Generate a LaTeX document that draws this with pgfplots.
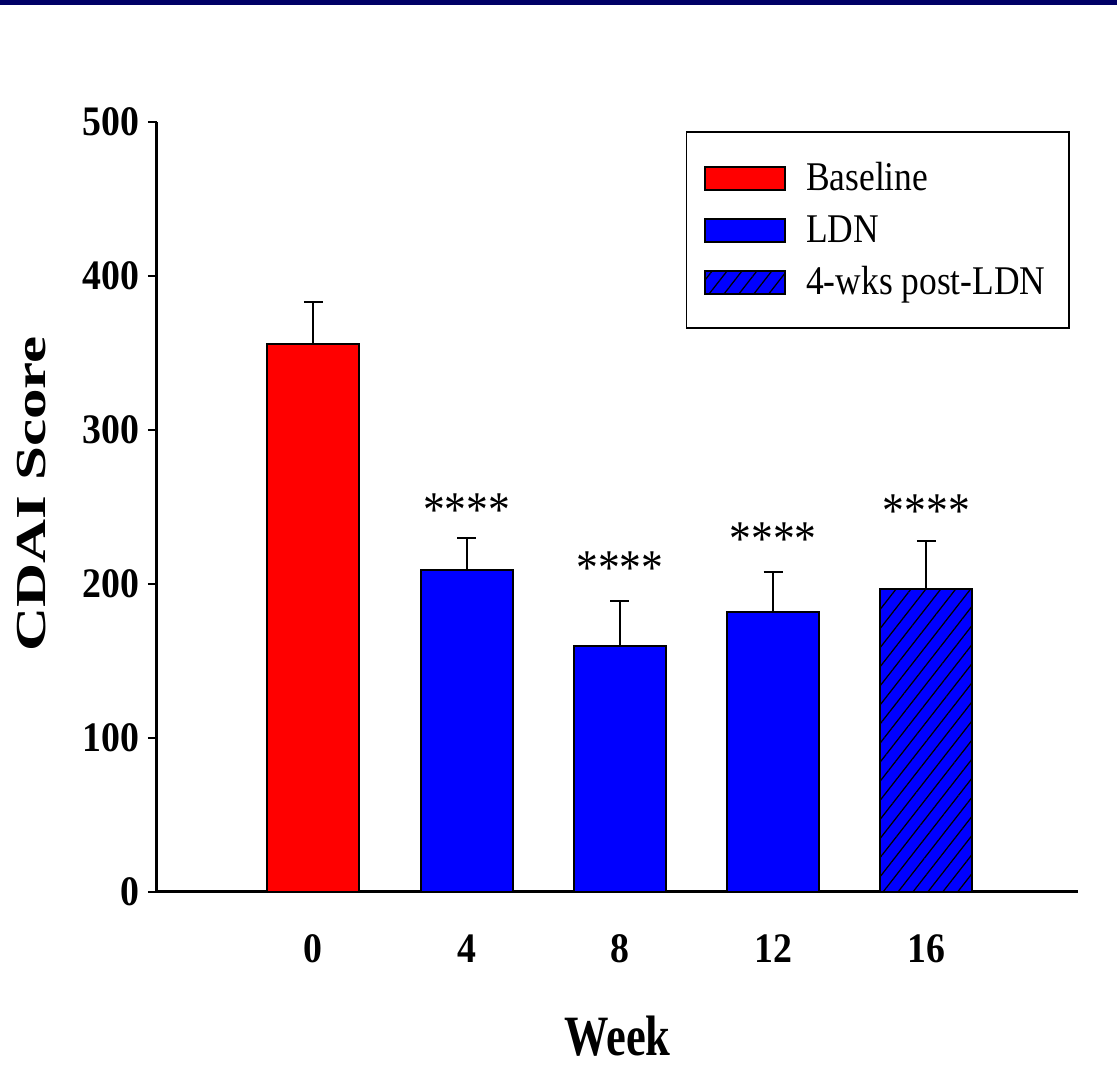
\documentclass[border=0pt]{standalone}
\usepackage{fontspec}
\setmainfont{Liberation Serif}[FakeStretch=0.87]
\newfontfamily\tickfont{Liberation Serif}[FakeStretch=0.9]
\newfontfamily\weekfont{Liberation Serif}[FakeStretch=0.78]
\newfontfamily\plainfont{Liberation Serif}
\usepackage{graphicx}
\usepackage{pgfplots}
\pgfplotsset{compat=1.18}
\usetikzlibrary{patterns.meta}
\definecolor{navyband}{RGB}{0,0,102}
\pgfplotsset{
  mylegend/.style={legend image code/.code={\draw[##1] (0pt,-4.6pt) rectangle (32pt,4.6pt);}},
}
\begin{document}
\begin{tikzpicture}
\path[use as bounding box] (0pt,0pt) rectangle (446.8pt,427.2pt);
\fill[navyband] (0pt,425.2pt) rectangle (446.8pt,427.2pt);
\begin{axis}[
  at={(62.8pt,70.4pt)}, anchor=south west,
  scale only axis, width=368.4pt, height=308pt,
  xmin=-1.02, xmax=4.99, ymin=0, ymax=500,
  axis lines*=left,
  axis line style={line width=1.2pt, black},
  ytick={0,100,200,300,400,500},
  xtick={0,1,2,3,4}, xticklabels={0,4,8,12,16},
  tick align=outside, major tick length=3.6pt,
  xtick style={draw=none},
  ytick style={line width=0.8pt, black},
  /pgf/number format/assume math mode=true,
  yticklabel style={font=\tickfont\bfseries\fontsize{16.8}{16.8}\selectfont},
  xticklabel style={font=\tickfont\bfseries\fontsize{16.8}{16.8}\selectfont, yshift=-10pt},
  xlabel={\weekfont\bfseries Week},
  ylabel={\scalebox{1}[0.7]{\plainfont\bfseries CDAI Score}},
  xlabel style={at={(axis description cs:0.5,-0.187)}, anchor=center, font=\fontsize{22.8}{22.8}\selectfont},
  ylabel style={at={(axis description cs:-0.136,0.517)}, anchor=center, font=\fontsize{24.4}{24.4}\selectfont},
  legend style={at={(rel axis cs:0.991,0.988)}, anchor=north east, draw=black, line width=0.6pt,
    font=\fontsize{16.3}{16.3}\selectfont, inner xsep=7pt, inner ysep=10pt,
    row sep=3.9pt, column sep=8pt,
    nodes={inner sep=0pt, text height=13.4pt, text depth=3.5pt}},
  legend cell align=left,
  ybar,
  error bars/y dir=plus, error bars/y explicit,
  error bars/error bar style={line width=0.8pt, black},
  error bars/error mark options={rotate=90, line width=0.8pt, black, mark size=3.8pt},
]
\addplot[mylegend, bar shift=0pt, bar width=36.8pt, fill=red, draw=black, line width=0.8pt]
  coordinates {(0,356) +- (0,27)};
\addlegendentry{Baseline}
\addplot[mylegend, bar shift=0pt, bar width=36.8pt, fill=blue, draw=black, line width=0.8pt]
  coordinates {(1,209) +- (0,21) (2,160) +- (0,29) (3,182) +- (0,26)};
\addlegendentry{LDN}
\addplot[mylegend, bar shift=0pt, bar width=36.8pt, fill=blue, draw=black, line width=0.8pt,
  postaction={pattern={Lines[angle=52,distance=4.7pt,line width=0.5pt]}, pattern color=black}]
  coordinates {(4,197) +- (0,31)};
\addlegendentry{4-wks post-LDN\hspace*{2.4pt}}
\node[anchor=base, inner sep=0pt, font=\fontsize{20}{20}\selectfont] at (axis cs:1,237.6) {****};
\node[anchor=base, inner sep=0pt, font=\fontsize{20}{20}\selectfont] at (axis cs:2,199.5) {****};
\node[anchor=base, inner sep=0pt, font=\fontsize{20}{20}\selectfont] at (axis cs:3,218.6) {****};
\node[anchor=base, inner sep=0pt, font=\fontsize{20}{20}\selectfont] at (axis cs:4,236.6) {****};
\end{axis}
\end{tikzpicture}
\end{document}
